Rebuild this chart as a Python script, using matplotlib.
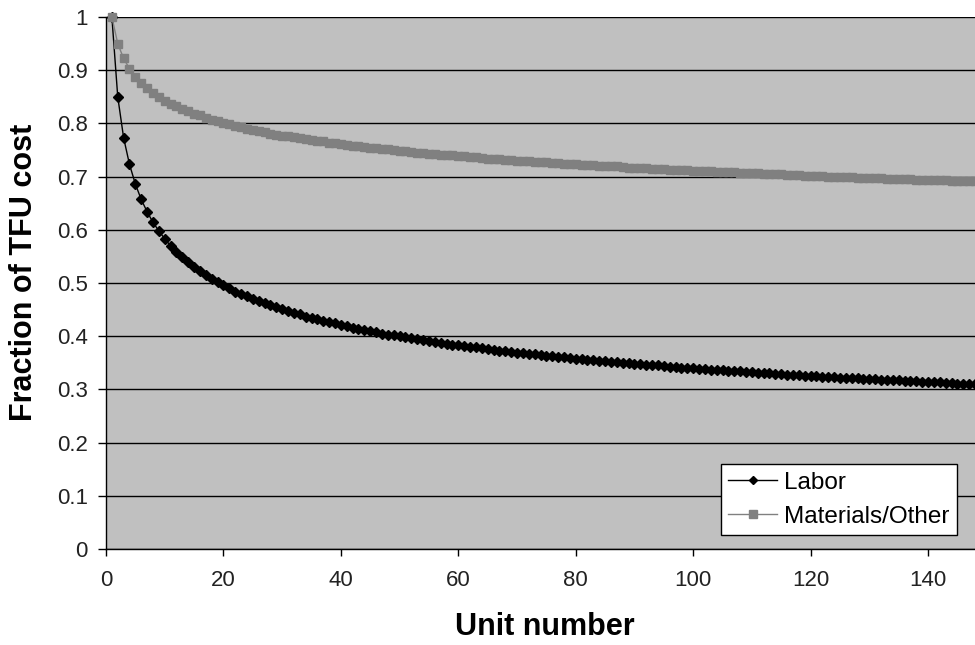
import matplotlib.pyplot as plt

plt.rcParams['font.family'] = ['Liberation Sans', 'DejaVu Sans']

# 单位编号
units = list(range(1, 149))

# 人工成本比例 (Labor)
labor = [1.000, 0.850, 0.773, 0.723, 0.686, 0.657, 0.634, 0.614, 0.598, 0.583,
         0.570, 0.559, 0.548, 0.539, 0.530, 0.522, 0.515, 0.508, 0.501, 0.496,
         0.490, 0.484, 0.479, 0.475, 0.470, 0.466, 0.462, 0.458, 0.454, 0.451,
         0.447, 0.444, 0.441, 0.437, 0.435, 0.432, 0.429, 0.426, 0.424, 0.421,
         0.419, 0.416, 0.414, 0.412, 0.410, 0.407, 0.405, 0.403, 0.402, 0.400,
         0.398, 0.396, 0.394, 0.393, 0.391, 0.389, 0.387, 0.386, 0.384, 0.383,
         0.381, 0.380, 0.379, 0.377, 0.376, 0.375, 0.373, 0.372, 0.370, 0.369,
         0.368, 0.367, 0.366, 0.365, 0.363, 0.362, 0.361, 0.360, 0.359, 0.358,
         0.357, 0.356, 0.355, 0.354, 0.353, 0.352, 0.351, 0.350, 0.349, 0.348,
         0.347, 0.346, 0.345, 0.345, 0.344, 0.343, 0.342, 0.341, 0.340, 0.340,
         0.339, 0.338, 0.337, 0.337, 0.336, 0.335, 0.334, 0.334, 0.333, 0.332,
         0.331, 0.331, 0.330, 0.329, 0.329, 0.328, 0.327, 0.327, 0.326, 0.325,
         0.325, 0.324, 0.324, 0.323, 0.322, 0.322, 0.321, 0.321, 0.320, 0.319,
         0.319, 0.318, 0.318, 0.317, 0.317, 0.316, 0.316, 0.315, 0.314, 0.314,
         0.313, 0.313, 0.312, 0.312, 0.311, 0.311, 0.310, 0.310]

# 材料及其他成本比例 (Materials/Other)
materials = [1.000, 0.950, 0.922, 0.903, 0.888, 0.876, 0.866, 0.857, 0.850, 0.843,
             0.837, 0.832, 0.827, 0.823, 0.818, 0.815, 0.811, 0.807, 0.804, 0.801,
             0.798, 0.796, 0.793, 0.790, 0.788, 0.786, 0.784, 0.781, 0.779, 0.777,
             0.776, 0.774, 0.772, 0.770, 0.769, 0.767, 0.766, 0.764, 0.763, 0.761,
             0.760, 0.758, 0.757, 0.756, 0.754, 0.753, 0.752, 0.751, 0.750, 0.749,
             0.748, 0.746, 0.745, 0.744, 0.743, 0.742, 0.741, 0.740, 0.740, 0.739,
             0.738, 0.737, 0.736, 0.735, 0.734, 0.733, 0.733, 0.732, 0.731, 0.730,
             0.730, 0.729, 0.728, 0.727, 0.727, 0.726, 0.725, 0.724, 0.724, 0.723,
             0.722, 0.722, 0.721, 0.720, 0.720, 0.719, 0.719, 0.718, 0.717, 0.717,
             0.716, 0.716, 0.715, 0.714, 0.714, 0.713, 0.713, 0.712, 0.712, 0.711,
             0.711, 0.710, 0.710, 0.709, 0.709, 0.708, 0.708, 0.707, 0.707, 0.706,
             0.706, 0.705, 0.705, 0.704, 0.704, 0.703, 0.703, 0.703, 0.702, 0.702,
             0.701, 0.701, 0.700, 0.700, 0.700, 0.699, 0.699, 0.698, 0.698, 0.698,
             0.697, 0.697, 0.696, 0.696, 0.696, 0.695, 0.695, 0.694, 0.694, 0.694,
             0.693, 0.693, 0.693, 0.692, 0.692, 0.692, 0.691, 0.691]

xticks = [0, 20, 40, 60, 80, 100, 120, 140]
yticks = [0, 0.1, 0.2, 0.3, 0.4, 0.5, 0.6, 0.7, 0.8, 0.9, 1.0]
ytick_labels = ['0', '0.1', '0.2', '0.3', '0.4', '0.5', '0.6', '0.7', '0.8', '0.9', '1']

fig = plt.figure(figsize=(9.75, 6.45), dpi=100)
ax = fig.add_axes([106 / 975, 1 - 549 / 645, 869 / 975, 532 / 645])
ax.set_facecolor('#c0c0c0')

ax.plot(units, labor, '-', color='black', linewidth=1, marker='D', markersize=4.6,
        markerfacecolor='black', markeredgecolor='black', label='Labor', clip_on=False)
ax.plot(units, materials, '-', color='#808080', linewidth=1, marker='s', markersize=6,
        markerfacecolor='#808080', markeredgecolor='#808080', label='Materials/Other', clip_on=False)

ax.set_xlim(0, 148)
ax.set_ylim(0, 1)
ax.set_xticks(xticks)
ax.set_yticks(yticks)
ax.set_yticklabels(ytick_labels)
ax.grid(axis='y', color='black', linewidth=1)
ax.set_axisbelow(True)

for side in ['top', 'right']:
    ax.spines[side].set_visible(False)
for side in ['left', 'bottom']:
    ax.spines[side].set_color('black')
    ax.spines[side].set_linewidth(1)

ax.tick_params(axis='x', direction='out', length=5, width=1, pad=10, labelsize=16,
               color='black', labelcolor='#222222')
ax.tick_params(axis='y', direction='out', length=6, width=1, pad=7, labelsize=16,
               color='black', labelcolor='#222222')

fig.text(24 / 975, 1 - 272 / 645, 'Fraction of TFU cost', rotation=90, ha='center', va='center',
         fontsize=22, fontweight='bold')
fig.text(545 / 975, 1 - 627 / 645, 'Unit number', ha='center', va='center',
         fontsize=22, fontweight='bold')

leg = ax.legend(loc='lower left', bbox_to_anchor=((721 - 106) / 869, (549 - 535) / 532),
                fontsize=17.5, frameon=True, fancybox=False, framealpha=1, borderaxespad=0,
                borderpad=0.3, handlelength=2.0, handletextpad=0.3, labelspacing=0.5,
                markerscale=0.9)
leg.get_frame().set_edgecolor('black')
leg.get_frame().set_linewidth(1)
leg.get_frame().set_facecolor('white')

fig.savefig('out.png', dpi=100)
